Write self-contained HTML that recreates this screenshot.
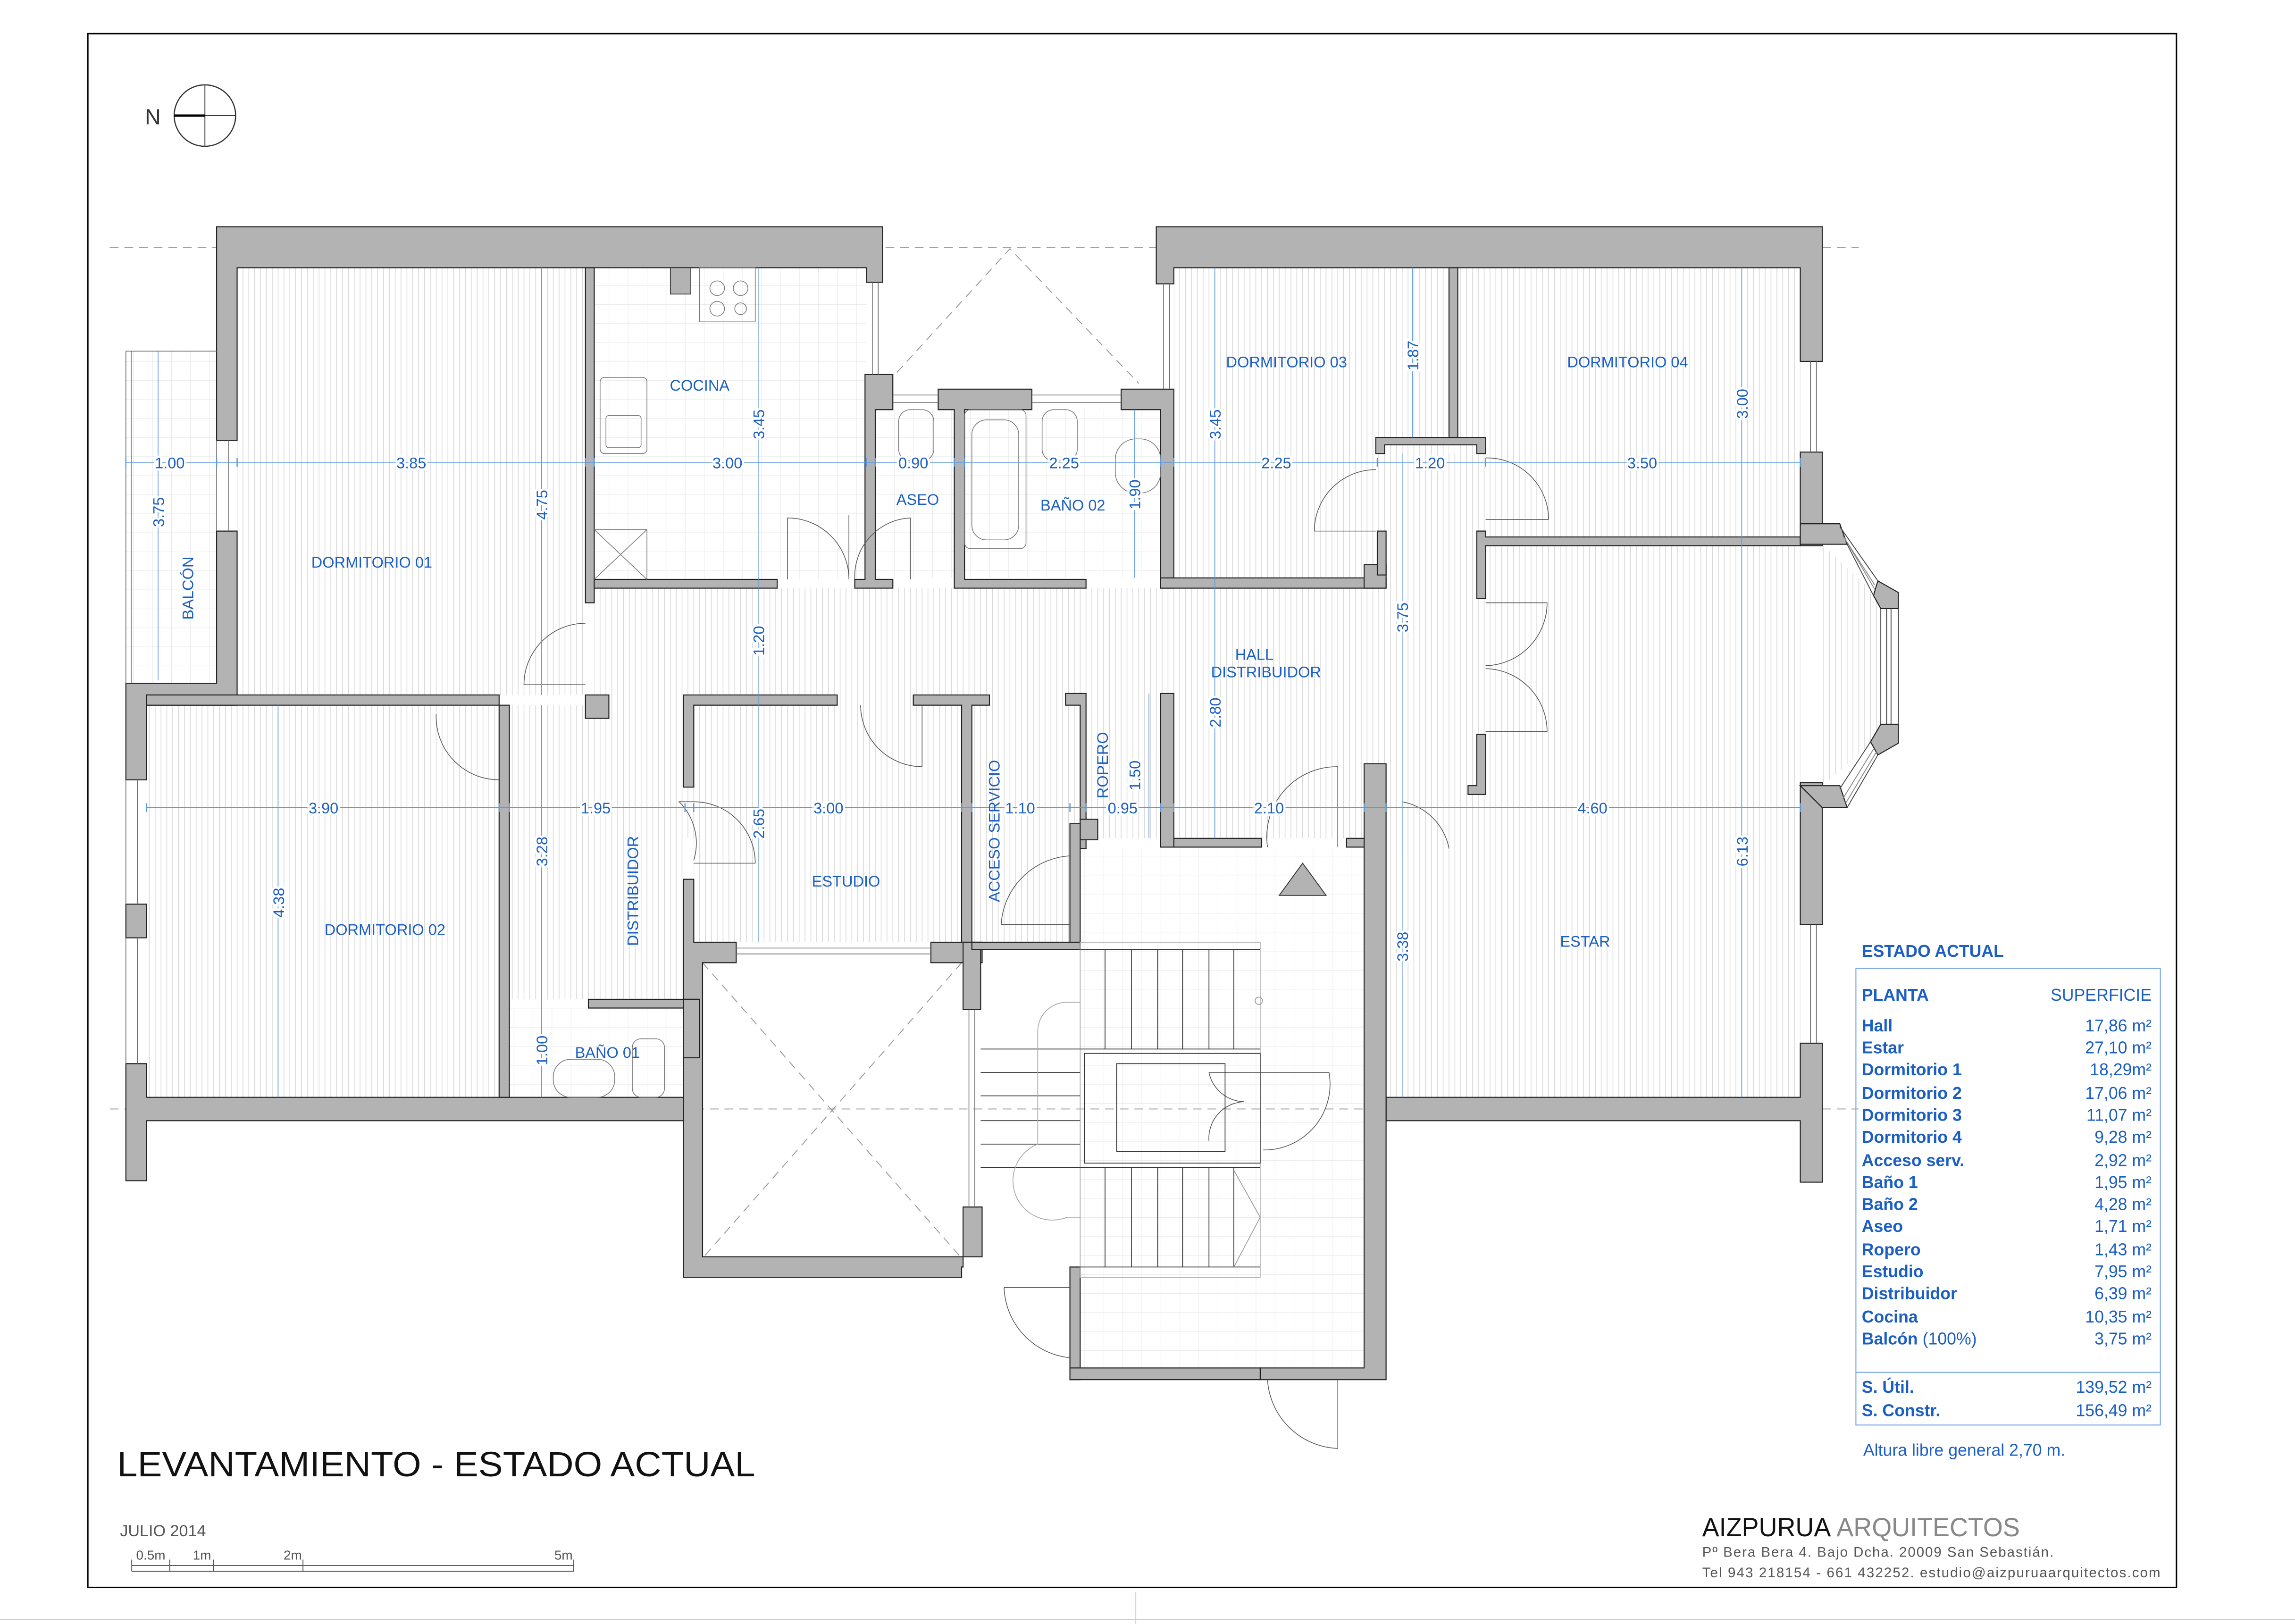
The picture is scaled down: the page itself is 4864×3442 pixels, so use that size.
<!DOCTYPE html>
<html><head><meta charset="utf-8"><style>
html,body{margin:0;padding:0;background:#fff}
svg{display:block}
text{font-family:"Liberation Sans",sans-serif}
.b{fill:#1c5fc4;font-size:10.5px}
.d{fill:#1c5fc4;font-size:10.5px;stroke:#fff;stroke-width:3;paint-order:stroke}
.t{fill:#1c5fc4;font-size:11.5px}
.tb{fill:#1c5fc4;font-size:11.5px;font-weight:bold}
</style></head><body>
<svg width="4864" height="3442" viewBox="0 0 1568 1110" preserveAspectRatio="none" xmlns="http://www.w3.org/2000/svg">
<defs>
<pattern id="h" width="4" height="10" patternUnits="userSpaceOnUse"><rect width="4" height="10" fill="#fff"/><line x1="2" y1="0" x2="2" y2="10" stroke="#d8d8d8" stroke-width="0.5"/></pattern>
<pattern id="g" width="13" height="13" patternUnits="userSpaceOnUse"><rect width="13" height="13" fill="#fff"/><path d="M0 0H13M0 0V13" stroke="#e2e2e2" stroke-width="0.5" fill="none"/></pattern>
</defs>
<rect width="1568" height="1110" fill="#fff"/>
<rect x="60" y="23" width="1427" height="1062" fill="none" stroke="#000" stroke-width="1"/>
<line x1="0" y1="1107" x2="1568" y2="1107" stroke="#ccc" stroke-width="0.6"/>
<line x1="776" y1="1088" x2="776" y2="1110" stroke="#ccc" stroke-width="0.6"/>

<g>
<rect x="162" y="183" width="238" height="292" fill="url(#h)"/>
<rect x="100" y="482" width="241" height="268" fill="url(#h)"/>
<rect x="348" y="482" width="120" height="201" fill="url(#h)"/>
<rect x="406" y="402" width="603" height="171" fill="url(#h)"/>
<rect x="474" y="482" width="183" height="162" fill="url(#h)"/>
<rect x="664" y="482" width="67" height="162" fill="url(#h)"/>
<rect x="802" y="183" width="188" height="212" fill="url(#h)"/>
<rect x="996" y="183" width="234" height="184" fill="url(#h)"/>
<rect x="947" y="373" width="283" height="377" fill="url(#h)"/>
<polygon points="1245,372 1280,405 1285,414 1285,497 1280,507 1245,537" fill="url(#h)"/>
<rect x="941" y="310" width="74" height="92" fill="url(#h)"/>
<rect x="406" y="183" width="186" height="213" fill="url(#g)"/>
<rect x="598" y="280" width="195" height="115" fill="url(#g)"/>
<rect x="348" y="689" width="120" height="61" fill="url(#g)"/>
<rect x="86" y="240" width="62" height="227" fill="url(#g)"/>
<rect x="738" y="580" width="194" height="355" fill="url(#g)"/>
</g>

<g stroke="#999" stroke-width="0.6" stroke-dasharray="6 4" fill="none">
<line x1="75" y1="169" x2="1270" y2="169"/>
<line x1="75" y1="758" x2="1270" y2="758"/>
<polyline points="606,262 690,170 778,262"/>
<line x1="480" y1="658" x2="657" y2="860"/>
<line x1="657" y1="658" x2="480" y2="860"/>
</g>

<g fill="#b3b3b3" stroke="#222" stroke-width="0.7">
<path d="M148 155H603V193H592V183H162V301H148Z"/>
<path d="M148 363H162V482H100V533H86V467H148Z"/>
<rect x="86" y="618" width="14" height="23"/>
<path d="M86 727H100V750H478V766H100V807H86Z"/>
<rect x="100" y="475" width="241" height="7"/>
<rect x="341" y="482" width="7" height="268"/>
<rect x="400" y="183" width="6" height="229"/>
<rect x="400" y="475" width="16" height="16"/>
<rect x="406" y="396" width="125" height="6"/>
<path d="M591 256H610V280H598V396H610V402H584V396H591Z"/>
<path d="M641 266H705V280H659V396H742V402H652V280H641Z"/>
<path d="M766 266H802V402H793V280H766Z"/>
<path d="M790 155H1245V247H1230V183H802V194H790Z"/>
<rect x="793" y="395" width="154" height="7"/>
<rect x="932" y="386" width="15" height="16"/>
<rect x="941" y="363" width="6" height="30"/>
<rect x="990" y="183" width="6" height="116"/>
<path d="M940 299H1015V310H1009V304H946V310H940Z"/>
<path d="M1009 363H1015V367H1230V373H1015V409H1009Z"/>
<path d="M1009 502H1015V543H1003V537H1009Z"/>
<rect x="1230" y="309" width="15" height="64"/>
<rect x="1230" y="535" width="15" height="97"/>
<path d="M947 750H1230V713H1245V808H1230V766H947Z"/>
<path d="M932 522H947V943H861V935H932Z"/>
<rect x="802" y="573" width="60" height="6"/>
<rect x="920" y="573" width="12" height="6"/>
<path d="M793 474H802V579H793Z"/>
<path d="M728 474H742V580H738V482H728Z"/>
<rect x="738" y="560" width="12" height="14"/>
<path d="M467 475H572V482H474V538H467Z"/>
<path d="M624 475H676V482H664V644H671V658H657V482H624Z"/>
<path d="M467 601H474V644H503V658H480V859H671V825H658V866H657V873H467Z"/>
<rect x="636" y="644" width="28" height="14"/>
<rect x="658" y="644" width="12" height="46"/>
<path d="M402 683H478V689H402Z"/>
<rect x="467" y="683" width="11" height="40"/>
<path d="M731 563H738V649H731Z"/>
<path d="M664 644H738V649H664Z"/>
<path d="M731 866H738V943H731Z"/>
<rect x="731" y="935" width="130" height="8"/>
</g>
<!-- bay window -->
<g fill="#b3b3b3" stroke="#222" stroke-width="0.7">
<path d="M1230 358H1257L1262 372H1230Z"/>
<path d="M1283 397L1297 405V416H1285L1280 407Z"/>
<path d="M1285 495H1297V508L1283 516L1278 507Z"/>
<path d="M1230 537H1257L1262 552H1245Z"/>
</g>
<g stroke="#444" stroke-width="0.6" fill="none">
<path d="M1257 360L1283 397M1262 372L1280 407"/>
<path d="M1259 366L1281 400M1261 369L1281 403" stroke="#888"/>
<path d="M1285 416V495M1297 416V495M1289 416V495M1292 416V495"/>
<path d="M1262 552L1283 516M1257 539L1278 507"/>
<path d="M1259 546L1280 512M1261 549L1282 514" stroke="#888"/>
</g>
<g stroke="#666" stroke-width="0.5" fill="none">
<path d="M148 301V363M156 301V363M86 533V618M94 533V618M86 641V727M94 641V727"/>
<path d="M1237 247V309M1241 247V309M1237 632V713M1241 632V713M795 194V266M799 194V266M596 193V256M600 193V256"/>
<path d="M610 270H641M610 275H641M705 270H766M705 275H766"/>
<path d="M503 648H636M503 652H636M662 690V825M666 690V825"/>
<path d="M86 240H148M86 240V467M90 240V467"/>
</g>
<g stroke="#555" stroke-width="0.5" fill="none">
<path d="M358 468H400M358 468A42 42 0 0 1 400 426"/>
<path d="M298 488V490M298 490A43 43 0 0 0 341 533"/>
<path d="M538 396V354A42 42 0 0 1 580 396M580 396V352"/>
<path d="M622 396V354A40 40 0 0 0 584 396"/>
<path d="M474 548H464A40 40 0 0 1 474 588"/>
<path d="M474 548A42 42 0 0 1 516 590H474"/>
<path d="M588 482A42 42 0 0 0 630 524V482"/>
<path d="M731 585A50 50 0 0 0 684 632H731"/>
<path d="M940 363H898A42 42 0 0 1 940 321"/>
<path d="M1015 355H1058A42 42 0 0 0 1015 313"/>
<path d="M1015 412H1057A43 43 0 0 1 1015 455M1015 500H1057A43 43 0 0 0 1015 457"/>
<path d="M914 579V524A48 48 0 0 0 866 579"/>
<path d="M958 548V585M958 548A40 40 0 0 1 990 580"/>
<path d="M686 880A50 50 0 0 0 731 928M686 880H731"/>
<path d="M866 943A50 50 0 0 0 914 990V943"/>
<path d="M826 733H908A45 45 0 0 1 863 786M826 733A25 25 0 0 0 850 753A25 25 0 0 0 826 780"/>
</g>
<g stroke="#333" stroke-width="0.55" fill="none">
<rect x="738" y="644" width="123" height="229" stroke="#aaa"/>
<rect x="741" y="720" width="120" height="75"/>
<rect x="763" y="727" width="74" height="60"/>
<path d="M738 649H861M738 717H861M738 798H861M738 866H861"/>
<path d="M755 649V717M773 649V717M791 649V717M808 649V717M826 649V717M843 649V717"/>
<path d="M755 798V866M773 798V866M791 798V866M808 798V866M826 798V866M843 798V866"/>
<path d="M670 717H738M670 733H738M670 749H738M670 766H738M670 782H738M670 798H738"/>
<path d="M843 800L861 832L843 866" stroke="#999"/>
<path d="M738 685H729A20 20 0 0 0 709 705V782A20 20 0 0 0 729 832H738" stroke="#aaa"/>
<circle cx="860" cy="684" r="2.5" stroke="#999"/>
</g>
<polygon points="890,590 874,612 906,612" fill="#b3b3b3" stroke="#333" stroke-width="0.6"/>
<g stroke="#777" stroke-width="0.5" fill="none">
<rect x="458" y="183" width="14" height="18" fill="#b3b3b3" stroke="#222"/>
<rect x="478" y="183" width="38" height="37"/>
<circle cx="490" cy="197" r="5"/><circle cx="506" cy="197" r="5"/><circle cx="490" cy="211" r="5"/><circle cx="506" cy="211" r="4"/>
<rect x="410" y="258" width="32" height="52" rx="3"/><rect x="414" y="284" width="24" height="22" rx="2"/>
<path d="M406 362H442V396M406 362L442 396M442 362L406 396"/>
<rect x="659" y="280" width="42" height="95" rx="4"/><rect x="664" y="287" width="32" height="82" rx="10"/>
<rect x="712" y="280" width="24" height="35" rx="8"/>
<rect x="614" y="280" width="24" height="35" rx="8"/>
<rect x="762" y="300" width="31" height="37" rx="14"/>
<rect x="378" y="724" width="42" height="26" rx="12"/>
<rect x="432" y="710" width="22" height="40" rx="6"/>
</g>

<g stroke="#5a98de" stroke-width="0.5" fill="none">
<path d="M86 316H1230M100 552H1230"/>
<path d="M108 240V465M370 183V475M518 183V644M775 280V395M830 183V573M965 183V299M958 310V750M1190 183V750M190 482V750M370 482V750M785 474V573"/>
</g>
<g fill="#5a98de">
<path d="M86 313V319M148 313V319M162 313V319M400 313V319M406 313V319M592 313V319M598 313V319M652 313V319M659 313V319M793 313V319M802 313V319M941 313V319M1015 313V319M1230 313V319" stroke="#5a98de" stroke-width="0.8"/>
<path d="M100 549V555M341 549V555M348 549V555M468 549V555M474 549V555M657 549V555M664 549V555M731 549V555M742 549V555M793 549V555M802 549V555M932 549V555M947 549V555M1230 549V555" stroke="#5a98de" stroke-width="0.8"/>
</g>
<g text-anchor="middle">
<text class="d" x="116" y="320">1.00</text>
<text class="d" x="281" y="320">3.85</text>
<text class="d" x="497" y="320">3.00</text>
<text class="d" x="624" y="320">0.90</text>
<text class="d" x="727" y="320">2.25</text>
<text class="d" x="872" y="320">2.25</text>
<text class="d" x="977" y="320">1.20</text>
<text class="d" x="1122" y="320">3.50</text>
<text class="d" x="221" y="556">3.90</text>
<text class="d" x="407" y="556">1.95</text>
<text class="d" x="566" y="556">3.00</text>
<text class="d" x="697" y="556">1.10</text>
<text class="d" x="767" y="556">0.95</text>
<text class="d" x="867" y="556">2.10</text>
<text class="d" x="1088" y="556">4.60</text>
<text class="d" transform="translate(112,350) rotate(-90)">3.75</text>
<text class="d" transform="translate(374,345) rotate(-90)">4.75</text>
<text class="d" transform="translate(522,290) rotate(-90)">3.45</text>
<text class="d" transform="translate(522,438) rotate(-90)">1.20</text>
<text class="d" transform="translate(522,563) rotate(-90)">2.65</text>
<text class="d" transform="translate(779,338) rotate(-90)">1.90</text>
<text class="d" transform="translate(834,290) rotate(-90)">3.45</text>
<text class="d" transform="translate(834,487) rotate(-90)">2.80</text>
<text class="d" transform="translate(969,243) rotate(-90)">1.87</text>
<text class="d" transform="translate(962,422) rotate(-90)">3.75</text>
<text class="d" transform="translate(962,647) rotate(-90)">3.38</text>
<text class="d" transform="translate(1194,276) rotate(-90)">3.00</text>
<text class="d" transform="translate(1194,582) rotate(-90)">6.13</text>
<text class="d" transform="translate(194,617) rotate(-90)">4.38</text>
<text class="d" transform="translate(374,582) rotate(-90)">3.28</text>
<text class="d" transform="translate(374,718) rotate(-90)">1.00</text>
<text class="d" transform="translate(779,530) rotate(-90)">1.50</text>
</g>
<g text-anchor="middle">
<text class="b" x="478" y="267">COCINA</text>
<text class="b" x="254" y="388">DORMITORIO 01</text>
<text class="b" transform="translate(132,402) rotate(-90)">BALCÓN</text>
<text class="b" x="263" y="639">DORMITORIO 02</text>
<text class="b" transform="translate(436,609) rotate(-90)">DISTRIBUIDOR</text>
<text class="b" x="578" y="606">ESTUDIO</text>
<text class="b" transform="translate(683,568) rotate(-90)">ACCESO SERVICIO</text>
<text class="b" transform="translate(757,523) rotate(-90)">ROPERO</text>
<text class="b" x="415" y="723">BAÑO 01</text>
<text class="b" x="627" y="345">ASEO</text>
<text class="b" x="733" y="349">BAÑO 02</text>
<text class="b" x="857" y="451">HALL</text>
<text class="b" x="865" y="463">DISTRIBUIDOR</text>
<text class="b" x="879" y="251">DORMITORIO 03</text>
<text class="b" x="1112" y="251">DORMITORIO 04</text>
<text class="b" x="1083" y="647">ESTAR</text>
</g>

<circle cx="140" cy="79" r="21" fill="none" stroke="#333" stroke-width="0.8"/>
<path d="M119 79H161M140 58V100" stroke="#333" stroke-width="0.6"/>
<path d="M119 79H140" stroke="#000" stroke-width="1.6"/>
<text x="99" y="85" font-size="15" fill="#333">N</text>

<text class="tb" x="1272" y="654">ESTADO ACTUAL</text>
<rect x="1268" y="662" width="208" height="312" fill="none" stroke="#7fa9e6" stroke-width="0.7"/>
<line x1="1268" y1="938" x2="1476" y2="938" stroke="#7fa9e6" stroke-width="0.7"/>
<text class="tb" x="1272" y="684">PLANTA</text>
<text class="t" x="1470" y="684" text-anchor="end">SUPERFICIE</text>
<g>
<text class="tb" x="1272" y="705">Hall</text><text class="t" x="1470" y="705" text-anchor="end">17,86 m²</text>
<text class="tb" x="1272" y="720">Estar</text><text class="t" x="1470" y="720" text-anchor="end">27,10 m²</text>
<text class="tb" x="1272" y="735">Dormitorio 1</text><text class="t" x="1470" y="735" text-anchor="end">18,29m²</text>
<text class="tb" x="1272" y="751">Dormitorio 2</text><text class="t" x="1470" y="751" text-anchor="end">17,06 m²</text>
<text class="tb" x="1272" y="766">Dormitorio 3</text><text class="t" x="1470" y="766" text-anchor="end">11,07 m²</text>
<text class="tb" x="1272" y="781">Dormitorio 4</text><text class="t" x="1470" y="781" text-anchor="end">9,28 m²</text>
<text class="tb" x="1272" y="797">Acceso serv.</text><text class="t" x="1470" y="797" text-anchor="end">2,92 m²</text>
<text class="tb" x="1272" y="812">Baño 1</text><text class="t" x="1470" y="812" text-anchor="end">1,95 m²</text>
<text class="tb" x="1272" y="827">Baño 2</text><text class="t" x="1470" y="827" text-anchor="end">4,28 m²</text>
<text class="tb" x="1272" y="842">Aseo</text><text class="t" x="1470" y="842" text-anchor="end">1,71 m²</text>
<text class="tb" x="1272" y="858">Ropero</text><text class="t" x="1470" y="858" text-anchor="end">1,43 m²</text>
<text class="tb" x="1272" y="873">Estudio</text><text class="t" x="1470" y="873" text-anchor="end">7,95 m²</text>
<text class="tb" x="1272" y="888">Distribuidor</text><text class="t" x="1470" y="888" text-anchor="end">6,39 m²</text>
<text class="tb" x="1272" y="904">Cocina</text><text class="t" x="1470" y="904" text-anchor="end">10,35 m²</text>
<text class="tb" x="1272" y="919">Balcón <tspan font-weight="normal">(100%)</tspan></text><text class="t" x="1470" y="919" text-anchor="end">3,75 m²</text>
<text class="tb" x="1272" y="952">S. Útil.</text><text class="t" x="1470" y="952" text-anchor="end">139,52 m²</text>
<text class="tb" x="1272" y="968">S. Constr.</text><text class="t" x="1470" y="968" text-anchor="end">156,49 m²</text>
</g>
<text class="t" x="1273" y="995">Altura libre general 2,70 m.</text>

<text x="80" y="1009" font-size="24" fill="#111" textLength="436" lengthAdjust="spacingAndGlyphs">LEVANTAMIENTO - ESTADO ACTUAL</text>
<text x="82" y="1050" font-size="11" fill="#555">JULIO 2014</text>
<g stroke="#555" stroke-width="0.6" fill="none">
<path d="M90 1070H392M90 1074H392M90 1066V1074M116 1066V1074M146 1066V1074M207 1066V1074M392 1066V1074"/>
</g>
<g font-size="9" fill="#555" text-anchor="middle">
<text x="103" y="1066">0.5m</text><text x="138" y="1066">1m</text><text x="200" y="1066">2m</text><text x="385" y="1066">5m</text>
</g>
<text x="1163" y="1050" font-size="18" fill="#111" textLength="217" lengthAdjust="spacingAndGlyphs">AIZPURUA <tspan fill="#888">ARQUITECTOS</tspan></text>
<text x="1163" y="1064" font-size="9.5" fill="#555" textLength="240">Pº Bera Bera 4. Bajo Dcha.  20009 San Sebastián.</text>
<text x="1163" y="1078" font-size="9.5" fill="#555" textLength="313">Tel 943 218154 - 661 432252.  estudio@aizpuruaarquitectos.com</text>
</svg>
</body></html>
